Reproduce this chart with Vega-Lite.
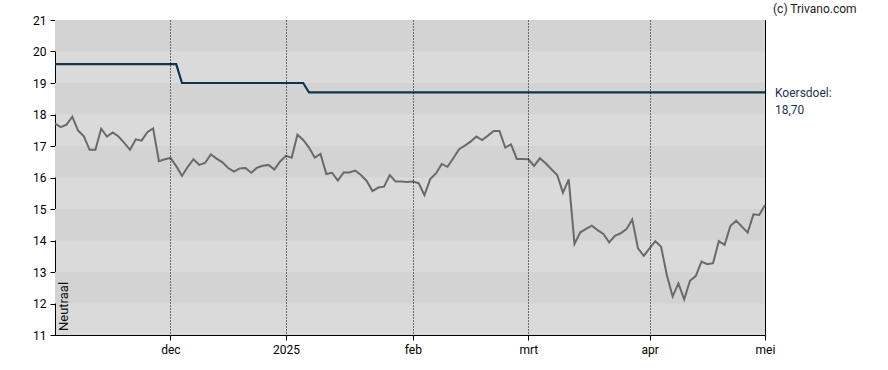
{
  "$schema": "https://vega.github.io/schema/vega-lite/v6.json",
  "width": 710,
  "height": 315,
  "autosize": {"type": "none"},
  "padding": {"left": 55, "top": 20, "right": 123, "bottom": 35},
  "background": "white",
  "config": {
    "font": "Roboto",
    "view": {"stroke": "black", "strokeWidth": 1, "fill": "#dadada"},
    "axisY": {
      "title": null,
      "tickCount": 20,
      "format": "d",
      "grid": false,
      "labelFontSize": 12,
      "labelColor": "#000000",
      "labelPadding": 4,
      "labelOverlap": false,
      "labelBound": false,
      "labelFlush": false,
      "tickSize": 5,
      "tickColor": "#000000",
      "domainColor": "#000000"
    }
  },
  "datasets": {
    "banden": [
      {"van": 20, "tot": 21},
      {"van": 18, "tot": 19},
      {"van": 16, "tot": 17},
      {"van": 14, "tot": 15},
      {"van": 12, "tot": 13}
    ],
    "koers": [
      {"d": "2024-11-04", "koers": 17.71, "doel": 19.6},
      {"d": "2024-11-05", "koers": 17.60, "doel": 19.6},
      {"d": "2024-11-06", "koers": 17.68, "doel": 19.6},
      {"d": "2024-11-07", "koers": 17.93, "doel": 19.6},
      {"d": "2024-11-08", "koers": 17.49, "doel": 19.6},
      {"d": "2024-11-11", "koers": 17.31, "doel": 19.6},
      {"d": "2024-11-12", "koers": 16.88, "doel": 19.6},
      {"d": "2024-11-13", "koers": 16.88, "doel": 19.6},
      {"d": "2024-11-14", "koers": 17.55, "doel": 19.6},
      {"d": "2024-11-15", "koers": 17.30, "doel": 19.6},
      {"d": "2024-11-18", "koers": 17.43, "doel": 19.6},
      {"d": "2024-11-19", "koers": 17.30, "doel": 19.6},
      {"d": "2024-11-20", "koers": 17.10, "doel": 19.6},
      {"d": "2024-11-21", "koers": 16.88, "doel": 19.6},
      {"d": "2024-11-22", "koers": 17.21, "doel": 19.6},
      {"d": "2024-11-25", "koers": 17.17, "doel": 19.6},
      {"d": "2024-11-26", "koers": 17.44, "doel": 19.6},
      {"d": "2024-11-27", "koers": 17.56, "doel": 19.6},
      {"d": "2024-11-28", "koers": 16.52, "doel": 19.6},
      {"d": "2024-11-29", "koers": 16.58, "doel": 19.6},
      {"d": "2024-12-02", "koers": 16.62, "doel": 19.6},
      {"d": "2024-12-03", "koers": 16.36, "doel": 19.6},
      {"d": "2024-12-04", "koers": 16.05, "doel": 19.0},
      {"d": "2024-12-05", "koers": 16.34, "doel": 19.0},
      {"d": "2024-12-06", "koers": 16.58, "doel": 19.0},
      {"d": "2024-12-09", "koers": 16.40, "doel": 19.0},
      {"d": "2024-12-10", "koers": 16.46, "doel": 19.0},
      {"d": "2024-12-11", "koers": 16.73, "doel": 19.0},
      {"d": "2024-12-12", "koers": 16.60, "doel": 19.0},
      {"d": "2024-12-13", "koers": 16.48, "doel": 19.0},
      {"d": "2024-12-16", "koers": 16.30, "doel": 19.0},
      {"d": "2024-12-17", "koers": 16.19, "doel": 19.0},
      {"d": "2024-12-18", "koers": 16.29, "doel": 19.0},
      {"d": "2024-12-19", "koers": 16.30, "doel": 19.0},
      {"d": "2024-12-20", "koers": 16.15, "doel": 19.0},
      {"d": "2024-12-23", "koers": 16.31, "doel": 19.0},
      {"d": "2024-12-24", "koers": 16.37, "doel": 19.0},
      {"d": "2024-12-27", "koers": 16.40, "doel": 19.0},
      {"d": "2024-12-30", "koers": 16.25, "doel": 19.0},
      {"d": "2024-12-31", "koers": 16.51, "doel": 19.0},
      {"d": "2025-01-02", "koers": 16.69, "doel": 19.0},
      {"d": "2025-01-03", "koers": 16.63, "doel": 19.0},
      {"d": "2025-01-06", "koers": 17.36, "doel": 19.0},
      {"d": "2025-01-07", "koers": 17.19, "doel": 19.0},
      {"d": "2025-01-08", "koers": 16.95, "doel": 18.7},
      {"d": "2025-01-09", "koers": 16.63, "doel": 18.7},
      {"d": "2025-01-10", "koers": 16.75, "doel": 18.7},
      {"d": "2025-01-13", "koers": 16.11, "doel": 18.7},
      {"d": "2025-01-14", "koers": 16.15, "doel": 18.7},
      {"d": "2025-01-15", "koers": 15.90, "doel": 18.7},
      {"d": "2025-01-16", "koers": 16.16, "doel": 18.7},
      {"d": "2025-01-17", "koers": 16.16, "doel": 18.7},
      {"d": "2025-01-20", "koers": 16.22, "doel": 18.7},
      {"d": "2025-01-21", "koers": 16.08, "doel": 18.7},
      {"d": "2025-01-22", "koers": 15.89, "doel": 18.7},
      {"d": "2025-01-23", "koers": 15.57, "doel": 18.7},
      {"d": "2025-01-24", "koers": 15.68, "doel": 18.7},
      {"d": "2025-01-27", "koers": 15.71, "doel": 18.7},
      {"d": "2025-01-28", "koers": 16.08, "doel": 18.7},
      {"d": "2025-01-29", "koers": 15.87, "doel": 18.7},
      {"d": "2025-01-30", "koers": 15.87, "doel": 18.7},
      {"d": "2025-01-31", "koers": 15.86, "doel": 18.7},
      {"d": "2025-02-03", "koers": 15.87, "doel": 18.7},
      {"d": "2025-02-04", "koers": 15.82, "doel": 18.7},
      {"d": "2025-02-05", "koers": 15.44, "doel": 18.7},
      {"d": "2025-02-06", "koers": 15.95, "doel": 18.7},
      {"d": "2025-02-07", "koers": 16.13, "doel": 18.7},
      {"d": "2025-02-10", "koers": 16.43, "doel": 18.7},
      {"d": "2025-02-11", "koers": 16.34, "doel": 18.7},
      {"d": "2025-02-12", "koers": 16.61, "doel": 18.7},
      {"d": "2025-02-13", "koers": 16.90, "doel": 18.7},
      {"d": "2025-02-14", "koers": 17.01, "doel": 18.7},
      {"d": "2025-02-17", "koers": 17.14, "doel": 18.7},
      {"d": "2025-02-18", "koers": 17.30, "doel": 18.7},
      {"d": "2025-02-19", "koers": 17.19, "doel": 18.7},
      {"d": "2025-02-20", "koers": 17.33, "doel": 18.7},
      {"d": "2025-02-21", "koers": 17.48, "doel": 18.7},
      {"d": "2025-02-24", "koers": 17.48, "doel": 18.7},
      {"d": "2025-02-25", "koers": 16.95, "doel": 18.7},
      {"d": "2025-02-26", "koers": 17.05, "doel": 18.7},
      {"d": "2025-02-27", "koers": 16.59, "doel": 18.7},
      {"d": "2025-02-28", "koers": 16.59, "doel": 18.7},
      {"d": "2025-03-03", "koers": 16.58, "doel": 18.7},
      {"d": "2025-03-04", "koers": 16.37, "doel": 18.7},
      {"d": "2025-03-05", "koers": 16.61, "doel": 18.7},
      {"d": "2025-03-06", "koers": 16.45, "doel": 18.7},
      {"d": "2025-03-07", "koers": 16.26, "doel": 18.7},
      {"d": "2025-03-10", "koers": 16.08, "doel": 18.7},
      {"d": "2025-03-11", "koers": 15.52, "doel": 18.7},
      {"d": "2025-03-12", "koers": 15.94, "doel": 18.7},
      {"d": "2025-03-13", "koers": 13.89, "doel": 18.7},
      {"d": "2025-03-14", "koers": 14.26, "doel": 18.7},
      {"d": "2025-03-17", "koers": 14.37, "doel": 18.7},
      {"d": "2025-03-18", "koers": 14.47, "doel": 18.7},
      {"d": "2025-03-19", "koers": 14.33, "doel": 18.7},
      {"d": "2025-03-20", "koers": 14.21, "doel": 18.7},
      {"d": "2025-03-21", "koers": 13.94, "doel": 18.7},
      {"d": "2025-03-24", "koers": 14.15, "doel": 18.7},
      {"d": "2025-03-25", "koers": 14.23, "doel": 18.7},
      {"d": "2025-03-26", "koers": 14.36, "doel": 18.7},
      {"d": "2025-03-27", "koers": 14.67, "doel": 18.7},
      {"d": "2025-03-28", "koers": 13.75, "doel": 18.7},
      {"d": "2025-03-31", "koers": 13.51, "doel": 18.7},
      {"d": "2025-04-01", "koers": 13.75, "doel": 18.7},
      {"d": "2025-04-02", "koers": 13.98, "doel": 18.7},
      {"d": "2025-04-03", "koers": 13.80, "doel": 18.7},
      {"d": "2025-04-04", "koers": 12.90, "doel": 18.7},
      {"d": "2025-04-07", "koers": 12.22, "doel": 18.7},
      {"d": "2025-04-08", "koers": 12.64, "doel": 18.7},
      {"d": "2025-04-09", "koers": 12.13, "doel": 18.7},
      {"d": "2025-04-10", "koers": 12.72, "doel": 18.7},
      {"d": "2025-04-11", "koers": 12.87, "doel": 18.7},
      {"d": "2025-04-14", "koers": 13.33, "doel": 18.7},
      {"d": "2025-04-15", "koers": 13.25, "doel": 18.7},
      {"d": "2025-04-16", "koers": 13.28, "doel": 18.7},
      {"d": "2025-04-17", "koers": 13.98, "doel": 18.7},
      {"d": "2025-04-22", "koers": 13.86, "doel": 18.7},
      {"d": "2025-04-23", "koers": 14.46, "doel": 18.7},
      {"d": "2025-04-24", "koers": 14.63, "doel": 18.7},
      {"d": "2025-04-25", "koers": 14.44, "doel": 18.7},
      {"d": "2025-04-28", "koers": 14.25, "doel": 18.7},
      {"d": "2025-04-29", "koers": 14.83, "doel": 18.7},
      {"d": "2025-04-30", "koers": 14.81, "doel": 18.7},
      {"d": "2025-05-01", "koers": 15.13, "doel": 18.7}
    ]
  },
  "layer": [
    {
      "data": {"name": "banden"},
      "mark": {"type": "rect", "color": "#d3d3d3"},
      "encoding": {
        "y": {"field": "van", "type": "quantitative", "title": null, "scale": {"domain": [11, 21], "nice": false, "zero": false}, "axis": {"values": [11, 12, 13, 14, 15, 16, 17, 18, 19, 20, 21], "tickCount": 20, "format": "d", "labelOverlap": false}},
        "y2": {"field": "tot"}
      }
    },
    {
      "data": {"name": "koers"},
      "encoding": {
        "x": {
          "field": "d",
          "type": "ordinal",
          "scale": {"type": "point", "padding": 0},
          "axis": {
            "title": null,
            "zindex": 1,
            "values": ["2024-12-02", "2025-01-02", "2025-02-03", "2025-03-03", "2025-04-01", "2025-05-01"],
            "labelExpr": "datum.value == '2024-12-02' ? 'dec' : datum.value == '2025-01-02' ? '2025' : datum.value == '2025-02-03' ? 'feb' : datum.value == '2025-03-03' ? 'mrt' : datum.value == '2025-04-01' ? 'apr' : 'mei'",
            "labelAngle": 0,
            "labelFontSize": 12,
            "labelColor": "#000000",
            "labelPadding": 4,
            "labelOverlap": false,
            "tickSize": 5,
            "tickColor": "#000000",
            "domainColor": "#000000",
            "grid": true,
            "gridColor": "#000000",
            "gridOpacity": 1,
            "gridDash": [1, 2],
            "gridWidth": 1
          }
        }
      },
      "layer": [
        {
          "mark": {"type": "line", "color": "#0d3552", "strokeWidth": 2.2},
          "encoding": {
            "y": {"field": "doel", "type": "quantitative", "title": null, "axis": {"values": [11, 12, 13, 14, 15, 16, 17, 18, 19, 20, 21], "tickCount": 20, "format": "d", "labelOverlap": false}}
          }
        },
        {
          "mark": {"type": "line", "color": "#6a6a6a", "strokeWidth": 2},
          "encoding": {
            "y": {
              "field": "koers",
              "type": "quantitative",
              "title": null,
              "scale": {"domain": [11, 21], "nice": false, "zero": false},
              "axis": {"values": [11, 12, 13, 14, 15, 16, 17, 18, 19, 20, 21], "tickCount": 20, "format": "d", "labelOverlap": false}
            }
          }
        }
      ]
    },
    {
      "data": {"values": [{}]},
      "mark": {"type": "text", "align": "left", "baseline": "middle", "dx": 10, "dy": 1, "fontSize": 12, "color": "#1b3550", "lineHeight": 17},
      "encoding": {
        "x": {"datum": "2025-05-01", "type": "ordinal"},
        "y": {"datum": 18.7, "type": "quantitative"},
        "text": {"value": ["Koersdoel:", "\u00a018,70"]}
      }
    },
    {
      "data": {"values": [{}]},
      "mark": {"type": "text", "align": "left", "baseline": "middle", "dx": 8, "dy": -11, "fontSize": 12, "color": "#222222"},
      "encoding": {
        "x": {"datum": "2025-05-01", "type": "ordinal"},
        "y": {"datum": 21, "type": "quantitative"},
        "text": {"value": "(c) Trivano.com"}
      }
    },
    {
      "data": {"values": [{}]},
      "mark": {"type": "text", "align": "left", "baseline": "middle", "angle": 270, "dx": 4, "dy": 9, "fontSize": 13, "color": "#111111"},
      "encoding": {
        "x": {"datum": "2024-11-04", "type": "ordinal"},
        "y": {"datum": 11, "type": "quantitative"},
        "text": {"value": "Neutraal"}
      }
    }
  ]
}
